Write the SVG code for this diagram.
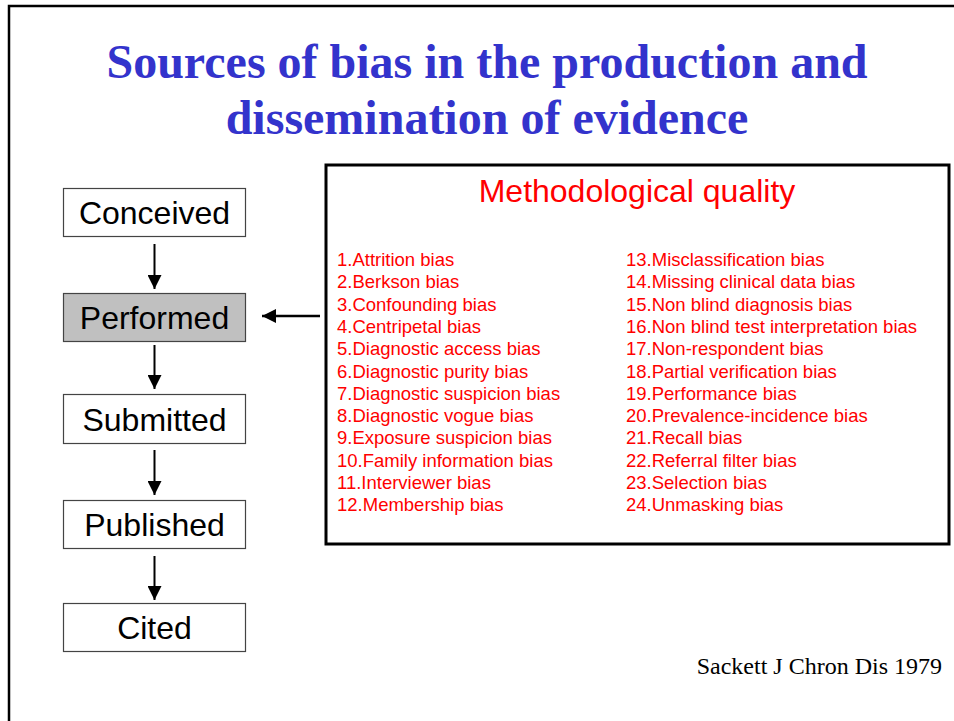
<svg xmlns="http://www.w3.org/2000/svg" width="954" height="721" viewBox="0 0 954 721">
<defs>
<marker id="ah" markerUnits="userSpaceOnUse" markerWidth="14" markerHeight="14" viewBox="0 0 14 14" refX="14" refY="7" orient="auto">
<path d="M0,0 L14,7 L0,14 Z" fill="#000"/>
</marker>
</defs>
<style>
.title{font-family:"Liberation Serif","Times New Roman",serif;font-weight:bold;font-size:48px;fill:#3333cc;text-anchor:middle}
.node rect{fill:#fff;stroke:#444;stroke-width:1.2}
.node text{font-family:"Liberation Sans",Arial,sans-serif;font-size:32px;fill:#000;text-anchor:middle}
.item{font-family:"Liberation Sans",Arial,sans-serif;font-size:18.5px;fill:#ff0000}
.conn line{stroke:#000;stroke-width:2;marker-end:url(#ah)}
</style>
<rect x="0" y="0" width="954" height="721" fill="#fff"/>
<rect x="9" y="6" width="960" height="730" fill="none" stroke="#000" stroke-width="2.5"/>
<text class="title" x="487" y="78">Sources of bias in the production and</text>
<text class="title" x="487" y="134">dissemination of evidence</text>

<g id="node-conceived" class="node">
<rect x="63.5" y="188.5" width="182" height="48"/>
<text x="154.5" y="223.5">Conceived</text>
</g>
<g id="node-performed" class="node">
<rect x="63.5" y="293.5" width="182" height="48" style="fill:#c0c0c0"/>
<text x="154.5" y="329">Performed</text>
</g>
<g id="node-submitted" class="node">
<rect x="63.5" y="394.5" width="182" height="49"/>
<text x="154.5" y="430.5">Submitted</text>
</g>
<g id="node-published" class="node">
<rect x="63.5" y="500.5" width="182" height="48"/>
<text x="154.5" y="536">Published</text>
</g>
<g id="node-cited" class="node">
<rect x="63.5" y="603.5" width="182" height="48"/>
<text x="154.5" y="639">Cited</text>
</g>

<g id="node-methodological" >
<rect x="326" y="165" width="623" height="379" fill="#fff" stroke="#000" stroke-width="3"/>
<text x="637" y="202" style="font-family:'Liberation Sans',Arial,sans-serif;font-size:32px;fill:#ff0000;text-anchor:middle">Methodological quality</text>
<g class="item">
<text x="337" y="266">1.Attrition bias</text>
<text x="337" y="288.3">2.Berkson bias</text>
<text x="337" y="310.6">3.Confounding bias</text>
<text x="337" y="332.9">4.Centripetal bias</text>
<text x="337" y="355.2">5.Diagnostic access bias</text>
<text x="337" y="377.5">6.Diagnostic purity bias</text>
<text x="337" y="399.8">7.Diagnostic suspicion bias</text>
<text x="337" y="422.1">8.Diagnostic vogue bias</text>
<text x="337" y="444.4">9.Exposure suspicion bias</text>
<text x="337" y="466.7">10.Family information bias</text>
<text x="337" y="489">11.Interviewer bias</text>
<text x="337" y="511.3">12.Membership bias</text>
<text x="626" y="266">13.Misclassification bias</text>
<text x="626" y="288.3">14.Missing clinical data bias</text>
<text x="626" y="310.6">15.Non blind diagnosis bias</text>
<text x="626" y="332.9">16.Non blind test interpretation bias</text>
<text x="626" y="355.2">17.Non-respondent bias</text>
<text x="626" y="377.5">18.Partial verification bias</text>
<text x="626" y="399.8">19.Performance bias</text>
<text x="626" y="422.1">20.Prevalence-incidence bias</text>
<text x="626" y="444.4">21.Recall bias</text>
<text x="626" y="466.7">22.Referral filter bias</text>
<text x="626" y="489">23.Selection bias</text>
<text x="626" y="511.3">24.Unmasking bias</text>
</g>
</g>

<g id="connectors" class="conn">
<line x1="154.5" y1="244" x2="154.5" y2="289"/>
<line x1="154.5" y1="345" x2="154.5" y2="389"/>
<line x1="154.5" y1="450" x2="154.5" y2="495"/>
<line x1="154.5" y1="556" x2="154.5" y2="600"/>
<line x1="320" y1="316" x2="262" y2="316" style="stroke-width:2.5"/>
</g>

<text x="942" y="674" style="font-family:'Liberation Serif','Times New Roman',serif;font-size:24px;fill:#000;text-anchor:end">Sackett J Chron Dis 1979</text>
</svg>
